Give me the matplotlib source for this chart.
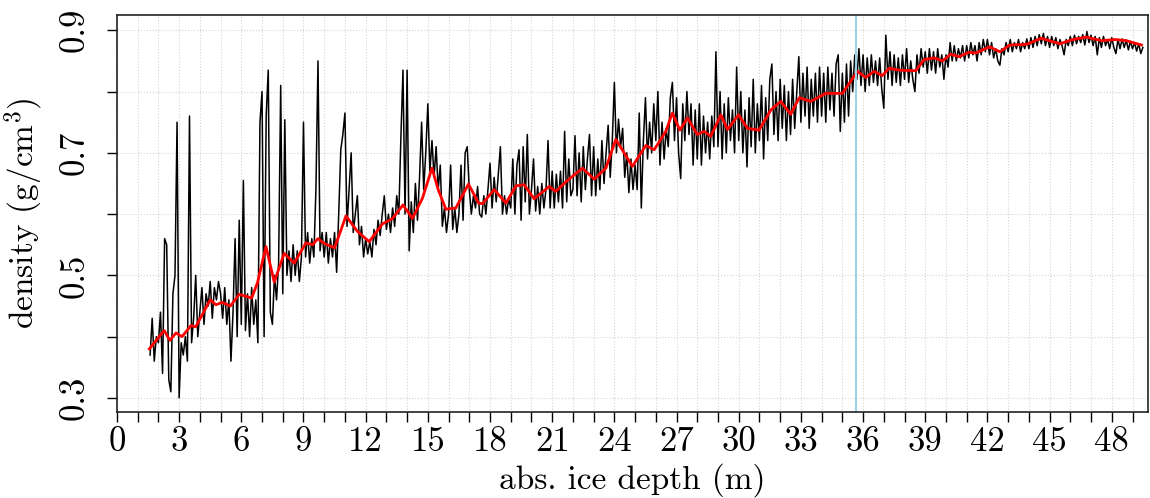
import numpy as np
import matplotlib
matplotlib.use("Agg")
import matplotlib.pyplot as plt

plt.rcParams['font.family'] = ['cmr10', 'DejaVu Serif']
plt.rcParams['mathtext.fontset'] = 'cm'
plt.rcParams['axes.formatter.use_mathtext'] = True

# measured core density, sampled every 10 cm from 1.6 m
depth_start = 1.6
depth_step = 0.1
density = [
    0.37, 0.43, 0.36, 0.40,
    0.39, 0.44, 0.34, 0.56, 0.55, 0.33, 0.31, 0.47, 0.50, 0.75,
    0.30, 0.39, 0.37, 0.40, 0.36, 0.76, 0.39, 0.43, 0.50, 0.40,
    0.44, 0.48, 0.42, 0.47, 0.45, 0.49, 0.43, 0.48, 0.46, 0.49,
    0.47, 0.43, 0.48, 0.42, 0.46, 0.36, 0.44, 0.56, 0.40, 0.59,
    0.42, 0.655, 0.41, 0.47, 0.40, 0.48, 0.42, 0.46, 0.39, 0.75,
    0.80, 0.40, 0.76, 0.835, 0.44, 0.42, 0.50, 0.46, 0.52, 0.81,
    0.47, 0.754, 0.50, 0.54, 0.49, 0.55, 0.50, 0.54, 0.49, 0.53,
    0.75, 0.53, 0.57, 0.52, 0.56, 0.53, 0.64, 0.85, 0.54, 0.57,
    0.53, 0.57, 0.52, 0.56, 0.53, 0.57, 0.505, 0.60, 0.705, 0.73,
    0.765, 0.58, 0.64, 0.70, 0.57, 0.60, 0.63, 0.55, 0.58, 0.53,
    0.56, 0.535, 0.555, 0.53, 0.575, 0.55, 0.59, 0.565, 0.60, 0.63,
    0.575, 0.60, 0.57, 0.61, 0.58, 0.63, 0.60, 0.725, 0.835, 0.60,
    0.835, 0.54, 0.62, 0.57, 0.65, 0.59, 0.66, 0.75, 0.64, 0.70,
    0.78, 0.67, 0.72, 0.66, 0.71, 0.64, 0.68, 0.58, 0.61, 0.57,
    0.60, 0.68, 0.575, 0.61, 0.57, 0.60, 0.68, 0.59, 0.70, 0.71,
    0.64, 0.60, 0.63, 0.61, 0.645, 0.60, 0.595, 0.63, 0.60, 0.64,
    0.683, 0.61, 0.66, 0.62, 0.665, 0.71, 0.60, 0.63, 0.60, 0.625,
    0.61, 0.69, 0.60, 0.68, 0.705, 0.59, 0.71, 0.62, 0.73, 0.60,
    0.64, 0.69, 0.605, 0.645, 0.60, 0.65, 0.61, 0.64, 0.72, 0.61,
    0.67, 0.61, 0.665, 0.62, 0.67, 0.61, 0.735, 0.62, 0.69, 0.63,
    0.64, 0.728, 0.63, 0.70, 0.62, 0.71, 0.64, 0.69, 0.73, 0.63,
    0.71, 0.63, 0.69, 0.64, 0.72, 0.65, 0.70, 0.745, 0.66, 0.72,
    0.815, 0.70, 0.755, 0.71, 0.74, 0.66, 0.70, 0.635, 0.69, 0.64,
    0.68, 0.64, 0.765, 0.61, 0.72, 0.79, 0.69, 0.75, 0.70, 0.78,
    0.72, 0.80, 0.68, 0.75, 0.69, 0.74, 0.71, 0.79, 0.815, 0.72,
    0.79, 0.70, 0.658, 0.78, 0.72, 0.80, 0.73, 0.78, 0.68, 0.77,
    0.69, 0.78, 0.68, 0.76, 0.70, 0.75, 0.69, 0.76, 0.71, 0.865,
    0.71, 0.80, 0.69, 0.78, 0.70, 0.79, 0.72, 0.77, 0.70, 0.84,
    0.72, 0.80, 0.70, 0.77, 0.677, 0.79, 0.71, 0.82, 0.70, 0.78,
    0.72, 0.81, 0.69, 0.79, 0.72, 0.82, 0.845, 0.73, 0.80, 0.72,
    0.82, 0.74, 0.81, 0.72, 0.80, 0.73, 0.82, 0.74, 0.80, 0.857,
    0.75, 0.83, 0.76, 0.84, 0.74, 0.82, 0.76, 0.83, 0.75, 0.84,
    0.76, 0.83, 0.75, 0.84, 0.77, 0.83, 0.76, 0.845, 0.86, 0.735,
    0.83, 0.75, 0.845, 0.76, 0.85, 0.80, 0.86, 0.82, 0.87, 0.81,
    0.86, 0.80, 0.855, 0.81, 0.86, 0.815, 0.85, 0.81, 0.855, 0.805,
    0.773, 0.892, 0.82, 0.865, 0.81, 0.86, 0.815, 0.855, 0.81, 0.86,
    0.82, 0.87, 0.815, 0.85, 0.82, 0.80, 0.86, 0.83, 0.87, 0.84,
    0.865, 0.83, 0.87, 0.835, 0.865, 0.83, 0.87, 0.84, 0.86, 0.82,
    0.86, 0.84, 0.88, 0.85, 0.875, 0.85, 0.87, 0.855, 0.875, 0.85,
    0.875, 0.855, 0.88, 0.86, 0.875, 0.85, 0.88, 0.86, 0.885, 0.865,
    0.885, 0.86, 0.88, 0.855, 0.87, 0.85, 0.843, 0.87, 0.86, 0.88,
    0.865, 0.885, 0.865, 0.88, 0.87, 0.885, 0.865, 0.88, 0.87, 0.886,
    0.87, 0.888, 0.872, 0.89, 0.875, 0.893, 0.878, 0.895, 0.875, 0.89,
    0.872, 0.89, 0.875, 0.888, 0.87, 0.885, 0.875, 0.86, 0.885, 0.875,
    0.89, 0.875, 0.892, 0.878, 0.89, 0.88, 0.893, 0.876, 0.898, 0.88,
    0.892, 0.875, 0.89, 0.86, 0.888, 0.872, 0.89, 0.875, 0.885, 0.87,
    0.888, 0.872, 0.862, 0.885, 0.87, 0.886, 0.872, 0.884, 0.868, 0.882,
    0.87, 0.88, 0.866, 0.878, 0.862, 0.872,
]
depth = np.round(depth_start + depth_step*np.arange(len(density)), 2)

# smoothed profile (red)
smooth_depth = [1.56, 2.28, 2.55, 2.85, 3.14, 3.57, 3.8, 4.5, 4.78, 5.07,
                5.47, 5.9, 6.5, 6.78, 7.19, 7.59, 8.07, 8.55, 9.12, 9.44,
                9.7, 10.0, 10.5, 11.05, 11.6, 12.17, 12.81, 13.3, 13.8, 14.26,
                14.74, 15.2, 15.5, 15.87, 16.35, 16.96, 17.45, 17.64, 18.2, 18.77,
                19.25, 19.65, 20.13, 20.85, 21.17, 21.74, 22.46, 23.03, 23.59, 24.07,
                24.87, 25.52, 25.92, 26.48, 26.8, 27.16, 27.53, 28.0, 28.33, 28.65,
                29.14, 29.46, 29.99, 30.42, 30.98, 31.55, 32.03, 32.51, 32.92, 33.48,
                34.2, 34.76, 35.0, 35.73, 36.13, 36.53, 36.93, 37.25, 37.74, 38.54,
                38.94, 39.43, 39.83, 40.23, 40.63, 41.1, 41.45, 42.1, 42.6, 43.08,
                43.88, 44.6, 45.49, 46.13, 46.78, 47.5, 48.15, 48.71, 49.43]
smooth_density = [0.38, 0.41, 0.394, 0.406, 0.40, 0.418, 0.416, 0.46, 0.452, 0.456,
                  0.45, 0.469, 0.463, 0.488, 0.547, 0.489, 0.536, 0.52, 0.553, 0.55,
                  0.56, 0.552, 0.545, 0.597, 0.572, 0.555, 0.584, 0.593, 0.615, 0.593,
                  0.626, 0.675, 0.64, 0.608, 0.61, 0.649, 0.618, 0.617, 0.64, 0.618,
                  0.646, 0.648, 0.625, 0.645, 0.637, 0.655, 0.675, 0.657, 0.675, 0.722,
                  0.678, 0.712, 0.705, 0.735, 0.765, 0.737, 0.757, 0.73, 0.735, 0.727,
                  0.762, 0.738, 0.762, 0.74, 0.737, 0.77, 0.784, 0.763, 0.79, 0.784,
                  0.797, 0.797, 0.797, 0.833, 0.823, 0.833, 0.826, 0.838, 0.835, 0.834,
                  0.852, 0.855, 0.85, 0.861, 0.857, 0.864, 0.863, 0.873, 0.865, 0.876,
                  0.877, 0.887, 0.878, 0.885, 0.889, 0.883, 0.885, 0.883, 0.876]

marker_depth = 35.68

fig = plt.figure(figsize=(11.5, 4.98), dpi=100)
ax = fig.add_axes([0.1017, 0.1727, 0.8966, 0.7972])

ax.plot(depth, density, color="black", linewidth=1.1)
ax.plot(smooth_depth, smooth_density, color="red", linewidth=2)
ax.axvline(marker_depth, color="#9fd3e3", linewidth=1.5)

ax.set_xlim(0, 49.75)
ax.set_ylim(0.277, 0.925)
ax.set_xticks(np.arange(0, 50, 1), minor=False)
ax.set_xticklabels([str(v) if v % 3 == 0 else "" for v in range(50)])
ax.set_yticks([0.3, 0.4, 0.5, 0.6, 0.7, 0.8, 0.9])
ax.set_yticklabels(["0.3", "", "0.5", "", "0.7", "", "0.9"], rotation=90, va="center")
ax.tick_params(labelsize=25, length=7, width=1, direction="out")
ax.tick_params(axis="x", pad=3)
ax.tick_params(axis="y", pad=12)
ax.grid(True, color="#d4d4d4", linestyle=":", linewidth=0.8)
ax.set_axisbelow(True)
for sp in ax.spines.values():
    sp.set_linewidth(1.2)
    sp.set_color("#222222")

ax.set_xlabel("abs. ice depth (m)", fontsize=24, labelpad=4)
ax.set_ylabel(r"density (g/cm$^3$)", fontsize=24, labelpad=10)

fig.savefig("out.png", dpi=100)
